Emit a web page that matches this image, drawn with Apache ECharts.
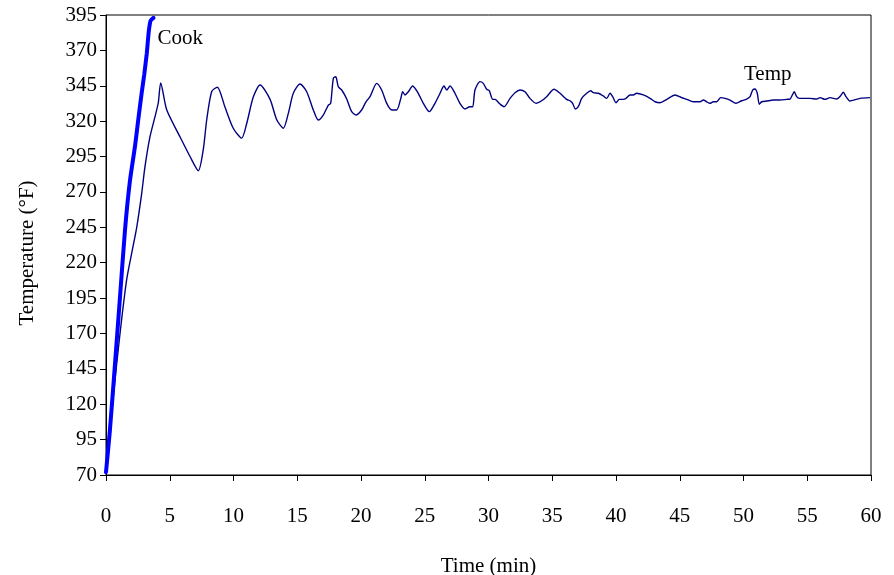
<!DOCTYPE html>
<html>
<head>
<meta charset="utf-8">
<script src="https://cdn.jsdelivr.net/npm/echarts@6/dist/echarts.min.js"></script>
<style>
  html, body { margin: 0; padding: 0; background: #fff; }
  #chart { width: 894px; height: 575px; }
</style>
</head>
<body>
<div id="chart"></div>
<script>
// time (min) / temperature (°F)
const cookTime = [0, 0.31, 0.71, 1.1, 1.49, 1.88, 2.27, 2.53, 2.8, 3.0, 3.2, 3.35, 3.5, 3.72]
const cookTemp = [72, 102, 149, 196, 243, 278, 302, 321, 340, 353, 368, 383, 391, 393]

const tempTime = [
  0.05, 0.57, 1.1, 1.62, 2.02, 2.41, 2.8, 3.06, 3.45, 3.84, 4.1, 4.29, 4.76, 5.8, 6.59, 7.24, 7.63, 7.9,
  8.29, 8.73, 9.33, 9.98, 10.64, 11.04, 11.55, 12.08, 12.86, 13.39, 13.91, 14.3, 14.69, 15.22,
  15.74, 16.26, 16.65, 17.04, 17.44, 17.62, 17.83, 18.02, 18.22, 18.49, 18.88, 19.27, 19.61,
  20.05, 20.39, 20.71, 21.23, 21.62, 22.02, 22.41, 22.8, 23.11, 23.27, 23.45, 23.71, 24.05,
  24.49, 24.89, 25.36, 25.8, 26.2, 26.51, 26.72, 26.98, 27.37, 27.76, 28.16, 28.55, 28.76,
  28.94, 29.33, 29.59, 29.86, 30.06, 30.33, 30.51, 30.9, 31.22, 31.69, 32.08, 32.47, 32.86,
  33.25, 33.73, 34.17, 34.56, 35.14, 35.61, 36.13, 36.39, 36.6, 36.81, 37.04, 37.31, 37.7,
  38.02, 38.22, 38.61, 39.0, 39.27, 39.53, 39.74, 40.0, 40.26, 40.57, 40.78, 41.1, 41.36,
  41.62, 42.14, 42.67, 43.06, 43.45, 43.98, 44.63, 45.15, 45.55, 46.06, 46.59, 46.85, 47.11,
  47.37, 47.63, 47.9, 48.21, 48.55, 48.94, 49.41, 49.86, 50.25, 50.51, 50.72, 50.9, 51.08,
  51.24, 51.43, 51.82, 52.34, 52.86, 53.39, 53.65, 53.86, 53.98, 54.17, 54.38, 54.69, 55.22,
  55.74, 56.0, 56.39, 56.78, 57.31, 57.62, 57.83, 58.04, 58.34, 58.63, 59.14, 59.92
]
const tempTemp = [
  73, 125, 170, 208, 227, 245, 269, 288, 309, 323, 333, 347, 328, 309, 295, 285, 300, 321,
  341, 344, 330, 315, 308, 318.5, 337, 345.5, 335.6, 321, 315, 325.5, 339.7, 346.2,
  340.8, 327.9, 320.8, 324.3, 331.4, 332.6, 350.3, 351.4, 344.3, 342, 335.6, 326.7, 324.3,
  327.9, 333.7, 337.3, 346.7, 342, 332.6, 327.9, 327.9, 335.6, 340.8, 338.5, 340.8, 344.8,
  339.7, 332.6, 326.7, 332.6, 339.7, 344.8, 342, 344.8, 339.7, 332.6, 328.6, 330.2, 330.2,
  342, 347.9, 346.7, 342.5, 341.5, 335.4, 335.4, 332.1, 330.2, 336.1, 340.1, 342, 340.8,
  336.1, 332.6, 334.4, 337.3, 342.5, 339.7, 335.4, 334.4, 332.6, 328.6, 330.2, 336.1, 339.7,
  341.5, 340.1, 339.7, 337.8, 336.1, 339.7, 337.3, 333, 335.4, 335.4, 336.1, 338.5, 338.5,
  339.7, 338.5, 336.1, 333.7, 333, 335.4, 338.5, 336.6, 335.4, 333.7, 333.7, 334.9, 333.7,
  332.6, 333.7, 333.7, 336.6, 336.1, 334.9, 332.6, 334.4, 335.6, 337.3, 342, 342.7, 339.7,
  331.9, 333.7, 334.2, 334.9, 334.9, 335.4, 335.6, 339, 340.8, 337.3, 336.1, 336.1, 336.1,
  335.6, 336.6, 335.4, 336.6, 335.6, 338, 340.4, 337.3, 334.2, 334.9, 336.1, 336.6
]

// where the "Temp" text sits, in data units
const tempLabelAt = [51.9, 353]

const font = "'Liberation Serif', 'Times New Roman', serif"
const fontSize = 21

const chart = echarts.init(document.getElementById('chart'), null, { renderer: 'canvas' })

chart.setOption({
  animation: false,
  textStyle: { fontFamily: font, color: '#000' },
  grid: {
    left: 106,
    right: 23,
    top: 15,
    bottom: 100,
    outerBoundsMode: 'none',
    show: true,
    borderColor: '#000',
    borderWidth: 1
  },
  xAxis: {
    type: 'value',
    min: 0,
    max: 60,
    interval: 5,
    name: 'Time (min)',
    nameLocation: 'middle',
    nameGap: 81,
    nameTextStyle: { fontFamily: font, fontSize, color: '#000' },
    axisLine: { show: true, lineStyle: { color: '#000', width: 1 } },
    axisTick: { show: true, length: 6, lineStyle: { color: '#000' } },
    axisLabel: { fontFamily: font, fontSize, color: '#000', margin: 31 },
    splitLine: { show: false }
  },
  yAxis: {
    type: 'value',
    min: 70,
    max: 395,
    interval: 25,
    name: 'Temperature (°F)',
    nameLocation: 'middle',
    nameGap: 68,
    // push the rotated title a little lower, like the reference
    nameTextStyle: { fontFamily: font, fontSize, color: '#000', padding: [0, 16, 0, 0] },
    axisLine: { show: true, lineStyle: { color: '#000', width: 1 } },
    axisTick: { show: true, length: 6, lineStyle: { color: '#000' } },
    axisLabel: { fontFamily: font, fontSize, color: '#000', margin: 9 },
    splitLine: { show: false }
  },
  series: [
    {
      name: 'Temp',
      type: 'line',
      data: tempTime.map((t, i) => [t, tempTemp[i]]),
      showSymbol: false,
      smooth: 0.25,
      lineStyle: { color: '#000080', width: 1.4 },
      markPoint: {
        symbol: 'circle',
        symbolSize: 0,
        label: {
          show: true,
          formatter: 'Temp',
          fontFamily: font,
          fontSize,
          color: '#000'
        },
        data: [{ coord: tempLabelAt, value: 'Temp' }]
      }
    },
    {
      name: 'Cook',
      type: 'line',
      data: cookTime.map((t, i) => [t, cookTemp[i]]),
      showSymbol: false,
      smooth: 0.2,
      lineStyle: { color: '#0000ff', width: 4, cap: 'round' },
      endLabel: {
        show: true,
        formatter: 'Cook',
        fontFamily: font,
        fontSize,
        color: '#000',
        offset: [-4, 21]
      }
    }
  ]
})

window.addEventListener('resize', () => chart.resize())
</script>
</body>
</html>
